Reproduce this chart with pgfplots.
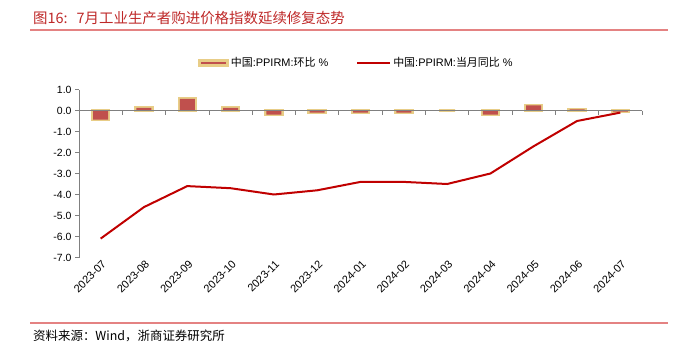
\documentclass[border=0pt]{standalone}
\usepackage{pgfplots}
\pgfplotsset{compat=1.18}
\usepackage{fontspec}
\setmainfont{Liberation Sans}
\newfontfamily\cjk{Noto Sans CJK SC}
\definecolor{titlered}{RGB}{190,40,40}
\definecolor{rulered}{RGB}{228,130,130}
\definecolor{barfill}{RGB}{192,80,77}
\definecolor{barglow}{RGB}{232,205,135}
\definecolor{linered}{RGB}{192,0,0}
\definecolor{axgray}{RGB}{128,128,128}
\begin{document}
\begin{tikzpicture}[x=1bp,y=1bp]
\path (0,0) rectangle (682,344);
\node[anchor=base west, inner sep=0, text=titlered, font=\cjk\fontsize{14.5}{14.5}\selectfont] at (33,321) {图16:\hspace{9bp}7月工业生产者购进价格指数延续修复态势};
\draw[rulered, line width=1.3bp] (30,314) -- (668,314);
\draw[rulered, line width=1.3bp] (30,21) -- (668,21);
\node[anchor=base west, inner sep=0, font=\cjk\fontsize{12.5}{12.5}\selectfont] at (33,4) {资料来源：Wind，浙商证券研究所};
\begin{axis}[
  scale only axis, width=563bp, height=168bp,
  at={(79bp,86.5bp)}, anchor=south west,
  xmin=-0.5, xmax=12.5, ymin=-7, ymax=1,
  axis x line*=bottom, axis y line*=left,
  x axis line style={draw=none},
  y axis line style={axgray, line width=0.8bp, -},
  xtick={0,...,12},
  xticklabels={2023-07,2023-08,2023-09,2023-10,2023-11,2023-12,2024-01,2024-02,2024-03,2024-04,2024-05,2024-06,2024-07},
  x tick style={draw=none},
  xticklabel style={rotate=45, anchor=east, font=\fontsize{11}{11}\selectfont, inner sep=1bp, xshift=3bp, yshift=-3bp},
  ytick={-7,-6,-5,-4,-3,-2,-1,0,1},
  y tick style={axgray, line width=0.8bp},
  tick align=outside, major tick length=4bp,
  yticklabel style={font=\fontsize{10.5}{10.5}\selectfont, /pgf/number format/fixed, /pgf/number format/fixed zerofill, /pgf/number format/precision=1, /pgf/number format/assume math mode=true},
  legend style={at={(0.5,1)}, anchor=south, yshift=17bp, xshift=-4bp, draw=none, fill=none, font=\fontsize{11}{11}\selectfont, legend columns=2, /tikz/every even column/.append style={column sep=26bp}},
  legend cell align=left,
  clip=false,
]
\addplot[ybar, bar shift=0pt, bar width=16bp, fill=barglow, draw=barglow, line width=3.5bp,
  legend image code/.code={\draw[barglow, line width=2.5bp, fill=barfill] (0bp,-2.5bp) rectangle (28bp,2.5bp);}]
  coordinates {(0,-0.43) (1,0.12) (2,0.55) (3,0.12) (4,-0.2) (5,-0.1) (6,-0.1) (7,-0.1) (8,0.0) (9,-0.2) (10,0.25) (11,0.05) (12,-0.05)};
\addlegendentry{{\cjk 中国}:PPIRM:{\cjk 环比} \%}
\addplot[ybar, bar shift=0pt, bar width=15bp, fill=barfill, draw=none, forget plot]
  coordinates {(0,-0.43) (1,0.12) (2,0.55) (3,0.12) (4,-0.2) (5,-0.1) (6,-0.1) (7,-0.1) (8,0.0) (9,-0.2) (10,0.25) (11,0.05) (12,-0.05)};
\addplot[linered, line width=2bp, mark=none,
  legend image code/.code={\draw[linered, line width=2bp] (0bp,0bp) -- (33bp,0bp);}]
  coordinates {(0,-6.1) (1,-4.6) (2,-3.6) (3,-3.7) (4,-4.0) (5,-3.8) (6,-3.4) (7,-3.4) (8,-3.5) (9,-3.0) (10,-1.7) (11,-0.5) (12,-0.1)};
\addlegendentry{{\cjk 中国}:PPIRM:{\cjk 当月同比} \%}
\draw[axgray, line width=0.8bp] (axis cs:-0.5,0) -- (axis cs:12.5,0);
\pgfplotsinvokeforeach{-0.5,0.5,1.5,2.5,3.5,4.5,5.5,6.5,7.5,8.5,9.5,10.5,11.5,12.5}{
  \draw[axgray, line width=0.8bp] (axis cs:#1,0) -- ([yshift=-4bp]axis cs:#1,0);
}
\end{axis}
\end{tikzpicture}
\end{document}
